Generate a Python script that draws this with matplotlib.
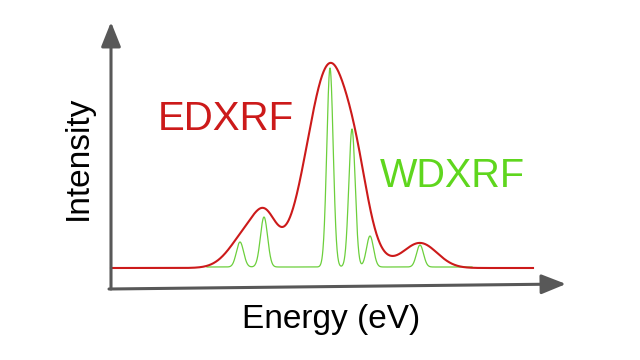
import numpy as np
import matplotlib
matplotlib.use('Agg')
import matplotlib.pyplot as plt

plt.rcParams['font.family'] = ['Liberation Sans', 'DejaVu Sans']

# peaks: (centre, height, width) in energy / intensity units
ed_centres = [250, 266, 330, 358, 420]
ed_heights = [38, 29, 204, 27, 25]
ed_widths = [18, 11, 23, 11, 17]

wd_centres = [240, 264, 330, 352, 370, 420]
wd_heights = [25, 50, 199, 138, 31, 22]
wd_widths = [3.6, 3.6, 3.2, 3.2, 3.5, 3.5]

ed_range = (111, 533)
wd_range = (207, 472)
wd_base = 1


def spectrum(x, centres, heights, widths):
    y = np.zeros_like(x)
    for c, h, w in zip(centres, heights, widths):
        y += h * np.exp(-(x - c) ** 2 / (2 * w ** 2))
    return y


fig = plt.figure(figsize=(6.4, 3.6), dpi=100)
ax = fig.add_axes([0, 0, 1, 1])
ax.set_xlim(0, 640)
ax.set_ylim(-92, 268)
ax.axis('off')

x_ed = np.linspace(ed_range[0], ed_range[1], 1500)
x_wd = np.linspace(wd_range[0], wd_range[1], 1500)
ax.plot(x_wd, spectrum(x_wd, wd_centres, wd_heights, wd_widths) + wd_base,
        color='#6ccf3c', lw=0.9, zorder=2)
ax.plot(x_ed, spectrum(x_ed, ed_centres, ed_heights, ed_widths),
        color='#cc1a1a', lw=1.5, zorder=3)

# axes arrows
arrow = dict(arrowstyle='-|>,head_length=0.5,head_width=0.2', mutation_scale=30,
             lw=2.2, color='#585858', shrinkA=0, shrinkB=0)
ax.annotate('', xy=(111, 246), xytext=(111, -21), arrowprops=arrow)
ax.annotate('', xy=(566, -16), xytext=(109, -21), arrowprops=arrow)

ax.text(158, 138, 'EDXRF', color='#cc1a1a', fontsize=29, ha='left', va='baseline')
ax.text(380, 81, 'WDXRF', color='#5fd61e', fontsize=28.5, ha='left', va='baseline')
ax.text(331, -60, 'Energy (eV)', color='black', fontsize=24, ha='center', va='baseline')
ax.text(87, 110, 'Intensity', color='black', fontsize=24, rotation=90,
        ha='center', va='baseline', rotation_mode='anchor')

fig.savefig('out.png', dpi=100)
